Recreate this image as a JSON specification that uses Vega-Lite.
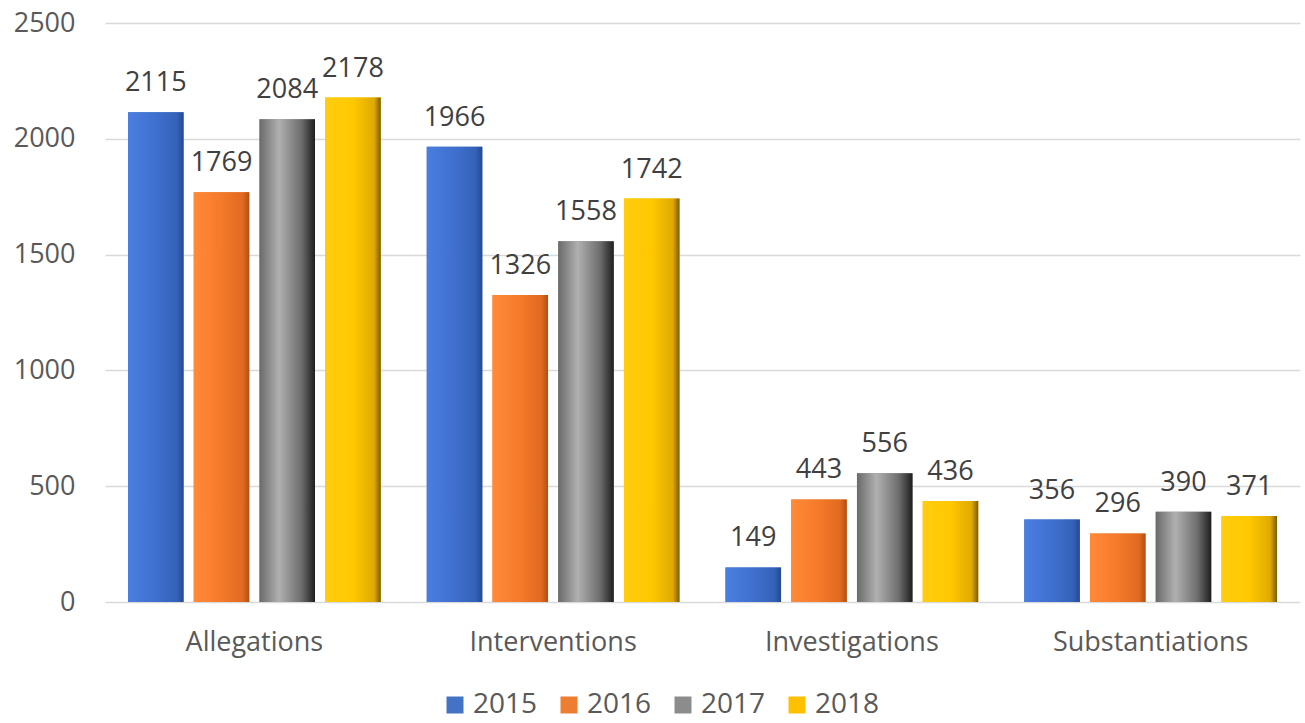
{
  "$schema": "https://vega.github.io/schema/vega-lite/v6.json",
  "autosize": {"type": "none"},
  "width": 1195,
  "height": 579,
  "padding": {"left": 105, "top": 23, "right": 5, "bottom": 121},
  "background": "white",
  "config": {
    "view": {"stroke": null},
    "font": "Open Sans"
  },
  "data": {
    "values": [
      {"category": "Allegations", "year": "2015", "value": 2115},
      {"category": "Allegations", "year": "2016", "value": 1769},
      {"category": "Allegations", "year": "2017", "value": 2084},
      {"category": "Allegations", "year": "2018", "value": 2178},
      {"category": "Interventions", "year": "2015", "value": 1966},
      {"category": "Interventions", "year": "2016", "value": 1326},
      {"category": "Interventions", "year": "2017", "value": 1558},
      {"category": "Interventions", "year": "2018", "value": 1742},
      {"category": "Investigations", "year": "2015", "value": 149},
      {"category": "Investigations", "year": "2016", "value": 443},
      {"category": "Investigations", "year": "2017", "value": 556},
      {"category": "Investigations", "year": "2018", "value": 436},
      {"category": "Substantiations", "year": "2015", "value": 356},
      {"category": "Substantiations", "year": "2016", "value": 296},
      {"category": "Substantiations", "year": "2017", "value": 390},
      {"category": "Substantiations", "year": "2018", "value": 371}
    ]
  },
  "encoding": {
    "x": {
      "field": "category", "type": "nominal", "sort": null,
      "scale": {"paddingInner": 0.154, "paddingOuter": 0.077},
      "axis": {"title": null, "labelAngle": 0, "labelFontSize": 27, "labelLimit": 0, "labelColor": "#595959", "ticks": false, "domain": false, "labelPadding": 27}
    },
    "xOffset": {"field": "year", "type": "nominal", "sort": null, "scale": {"domain": ["2015", "2016", "2017", "2018"], "paddingInner": 0.155, "paddingOuter": 0}},
    "y": {
      "field": "value", "type": "quantitative",
      "scale": {"domain": [0, 2500]},
      "axis": {"title": null, "values": [0, 500, 1000, 1500, 2000, 2500], "format": "d", "labelFontSize": 27, "labelColor": "#595959", "ticks": false, "domain": false, "labelPadding": 30, "gridColor": "#d9d9d9", "gridWidth": 1.5}
    }
  },
  "layer": [
    {
      "mark": {"type": "bar"},
      "encoding": {
        "color": {
          "field": "year", "type": "nominal",
          "scale": {"domain": ["2015", "2016", "2017", "2018"], "range": ["#4472C4", "#ED7D31", "#8c8c8c", "#FFC000"]},
          "legend": {"title": null, "orient": "none", "legendX": 336, "legendY": 668, "direction": "horizontal", "symbolType": "square", "symbolSize": 289, "labelFontSize": 28, "labelColor": "#595959", "columnPadding": 17, "labelOffset": 4, "symbolStrokeWidth": 0}
        }
      }
    },
    {
      "transform": [{"filter": "datum.year === '2015'"}],
      "mark": {"type": "bar", "fill": {"gradient": "linear", "x1": 0, "y1": 0, "x2": 1, "y2": 0, "stops": [{"offset": 0, "color": "#4a7ee0"}, {"offset": 0.5, "color": "#3f70cf"}, {"offset": 0.88, "color": "#3462b8"}, {"offset": 1, "color": "#244a90"}]}}
    },
    {
      "transform": [{"filter": "datum.year === '2016'"}],
      "mark": {"type": "bar", "fill": {"gradient": "linear", "x1": 0, "y1": 0, "x2": 1, "y2": 0, "stops": [{"offset": 0, "color": "#ff8a3a"}, {"offset": 0.5, "color": "#f57a2a"}, {"offset": 0.88, "color": "#e06a20"}, {"offset": 1, "color": "#b05010"}]}}
    },
    {
      "transform": [{"filter": "datum.year === '2017'"}],
      "mark": {"type": "bar", "fill": {"gradient": "linear", "x1": 0, "y1": 0, "x2": 1, "y2": 0, "stops": [{"offset": 0, "color": "#6a6a6a"}, {"offset": 0.35, "color": "#b0b0b0"}, {"offset": 0.75, "color": "#6e6e6e"}, {"offset": 1, "color": "#1e1e1e"}]}}
    },
    {
      "transform": [{"filter": "datum.year === '2018'"}],
      "mark": {"type": "bar", "fill": {"gradient": "linear", "x1": 0, "y1": 0, "x2": 1, "y2": 0, "stops": [{"offset": 0, "color": "#ffcc10"}, {"offset": 0.5, "color": "#ffc800"}, {"offset": 0.88, "color": "#e0aa00"}, {"offset": 1, "color": "#7a5a00"}]}}
    },
    {
      "mark": {"type": "text", "baseline": "bottom", "dy": -15, "fontSize": 27, "color": "#404040"},
      "encoding": {"text": {"field": "value", "type": "quantitative"}}
    }
  ]
}
